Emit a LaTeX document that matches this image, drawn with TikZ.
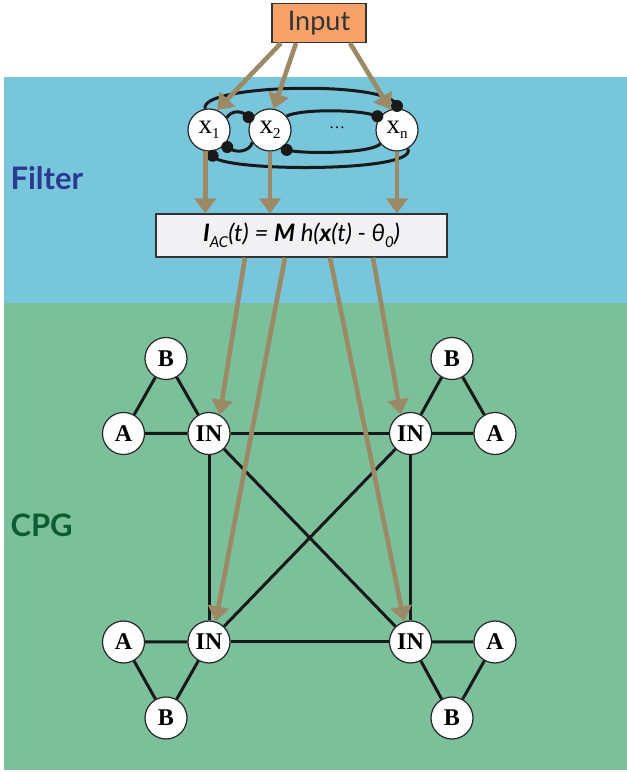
\documentclass[tikz,border=0pt]{standalone}
\usepackage{fontspec}
\setmainfont{Liberation Serif}
\newfontfamily\labelfont{Lato}
\usetikzlibrary{arrows.meta,positioning}

\definecolor{filterblue}{HTML}{78C6DC}
\definecolor{cpggreen}{HTML}{7BC09B}
\definecolor{inputorange}{HTML}{F8A26A}
\definecolor{arrowtan}{HTML}{9C8966}
\definecolor{eqgray}{HTML}{F1F1F3}
\definecolor{filtertext}{HTML}{2B3990}
\definecolor{cpgtext}{HTML}{0E5C36}

\newcommand{\lowsub}[1]{\raisebox{-0.45ex}{\fontsize{15}{15}\selectfont #1}}

\tikzset{
  neuron/.style={circle, draw=black!85, line width=1.2pt, fill=white, minimum size=42pt, inner sep=0pt, font=\fontsize{24}{24}\selectfont\bfseries},
  xneuron/.style={neuron, font=\fontsize{27}{27}\selectfont},
  link/.style={line width=3pt, black!90},
  feed/.style={line width=4.6pt, arrowtan, -{Triangle[length=15pt,width=21pt]}},
  syn/.style={fill=black!90},
  band/.style={anchor=west, font=\labelfont\bfseries\fontsize{31}{31}\selectfont},
}

\begin{document}
\begin{tikzpicture}[x=1pt,y=1pt]
	\useasboundingbox (0,0) rectangle (627,772);
	
	% background bands
	\fill[filterblue] (4,469) rectangle (627,695);
	\fill[cpggreen] (4,2) rectangle (627,469);
	\node[band, text=filtertext] (filterlbl) at (7,594) {Filter};
	\node[band, text=cpgtext] (cpglbl) at (7,247) {CPG};
	
	% filter
	\node[draw=black!80, line width=1.2pt, fill=inputorange, minimum width=94pt, minimum height=39pt, font=\labelfont\fontsize{27}{27}\selectfont, text=black!80] (input) at (319,749) {Input};
	\node[xneuron] (x1) at (209,642) {x\lowsub{1}};
	\node[xneuron] (x2) at (270,642) {x\lowsub{2}};
	\node[xneuron] (xn) at (397,642) {x\lowsub{n}};
	\node[font=\fontsize{16}{16}\selectfont] (xdots) at (337,644) {\dots};
	\node[draw=black!80, line width=1.2pt, fill=eqgray, minimum width=291pt, minimum height=43pt, font=\labelfont\itshape\fontsize{24}{24}\selectfont] (eq) at (301.5,536.5) {\textbf{I}\lowsub{AC}(t) = \textbf{M} h(\textbf{x}(t) - θ\lowsub{0})};
	
	\path (x2) ++(149:25) coordinate (s21)
	      (x1) ++(-43:25) coordinate (s12)
	      (x1) ++(-82:26) coordinate (s1n)
	      (x2) ++(-50:26) coordinate (s2n)
	      (xn) ++(90:24) coordinate (sn1)
	      (xn) ++(145:24) coordinate (sn2);
	
	\draw[link] (x1.100) .. controls (198,688) and (392,692) .. (sn1);
	\draw[link] (s1n) .. controls (218,600) and (420,599) .. (xn.-60);
	\draw[link] (x2.40) .. controls (300,663) and (360,663) .. (sn2);
	\draw[link] (s2n) .. controls (300,618) and (370,618) .. (xn.-140);
	\draw[link] (x1.35) .. controls (232,662) and (242,662) .. (s21);
	\draw[link] (x2.-145) .. controls (250,620) and (235,618) .. (s12);
	\foreach \s in {s21,s12,s1n,s2n,sn1,sn2}
		\fill[syn] (\s) circle (6);
	
	% CPG
	\node[neuron] (INtl) at (209,338.5) {IN};
	\node[neuron] (Atl) at (123.5,338.5) {A};
	\node[neuron] (Btl) at (166,413.5) {B};
	\node[neuron] (INtr) at (410.5,338.5) {IN};
	\node[neuron] (Atr) at (495,338.5) {A};
	\node[neuron] (Btr) at (452,413.5) {B};
	\node[neuron] (INbl) at (209,130) {IN};
	\node[neuron] (Abl) at (123.5,130) {A};
	\node[neuron] (Bbl) at (166,54) {B};
	\node[neuron] (INbr) at (410.5,130) {IN};
	\node[neuron] (Abr) at (495,130) {A};
	\node[neuron] (Bbr) at (452,54) {B};
	
	\draw[link] (Atl) -- (Btl) -- (INtl) -- (Atl);
	\draw[link] (Atr) -- (Btr) -- (INtr) -- (Atr);
	\draw[link] (Abl) -- (Bbl) -- (INbl) -- (Abl);
	\draw[link] (Abr) -- (Bbr) -- (INbr) -- (Abr);
	\draw[link] (INtl) -- (INtr) -- (INbr) -- (INbl) -- (INtl);
	\draw[link] (INtl) -- (INbr);
	\draw[link] (INtr) -- (INbl);
	
	% feed-forward arrows
	\draw[feed] ([xshift=-38pt]input.south) -- (x1.68);
	\draw[feed] ([xshift=-23pt]input.south) -- (x2.80);
	\draw[feed] ([xshift=31pt]input.south) -- (xn.108);
	\draw[feed] (x1.-100) -- (x1.-100 |- eq.north);
	\draw[feed] (x2.south) -- (x2.south |- eq.north);
	\draw[feed] (xn.south) -- (xn.south |- eq.north);
	\draw[feed] ([xshift=-56.5pt]eq.south) -- (INtl.60);
	\draw[feed] ([xshift=-16.5pt]eq.south) -- (INbl.72);
	\draw[feed] ([xshift=28.5pt]eq.south) -- (INbr.107);
	\draw[feed] ([xshift=71.5pt]eq.south) -- (INtr.117);
\end{tikzpicture}
\end{document}
